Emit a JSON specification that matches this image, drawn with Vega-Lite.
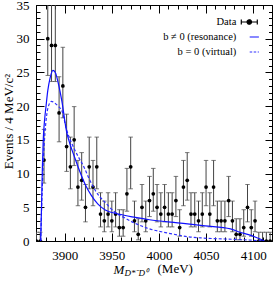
{
  "$schema": "https://vega.github.io/schema/vega-lite/v6.json",
  "width": 236,
  "height": 236,
  "autosize": "none",
  "padding": {"left": 36, "top": 5, "right": 2, "bottom": 46},
  "background": "white",
  "config": {
    "view": {"stroke": "black", "strokeWidth": 1},
    "axis": {"grid": false, "domain": false, "tickColor": "black", "labelColor": "black", "titleColor": "black", "labelFont": "Liberation Serif", "titleFont": "Liberation Serif", "titleFontWeight": "normal"}
  },
  "datasets": {
    "pts": [
      {"m":3870,"n":0,"lo":0,"hi":1.3},{"m":3874,"n":0,"lo":0,"hi":1.3},{"m":3878,"n":12,"lo":8.59,"hi":16.55},
      {"m":3882,"n":30,"lo":24.55,"hi":36.31},{"m":3886,"n":29,"lo":23.65,"hi":35.22},{"m":3890,"n":29,"lo":23.65,"hi":35.22},
      {"m":3894,"n":19,"lo":14.71,"hi":24.36},{"m":3898,"n":23,"lo":18.27,"hi":28.73},{"m":3902,"n":14,"lo":10.32,"hi":18.81},
      {"m":3906,"n":11,"lo":7.74,"hi":15.41},{"m":3910,"n":15,"lo":11.19,"hi":19.93},{"m":3914,"n":8,"lo":5.23,"hi":11.95},
      {"m":3918,"n":9,"lo":6.06,"hi":13.11},{"m":3922,"n":5,"lo":2.84,"hi":8.38},{"m":3926,"n":11,"lo":7.74,"hi":15.41},
      {"m":3930,"n":8,"lo":5.23,"hi":11.95},{"m":3934,"n":11,"lo":7.74,"hi":15.41},{"m":3938,"n":4,"lo":2.09,"hi":7.16},
      {"m":3942,"n":3,"lo":1.37,"hi":5.92},{"m":3946,"n":4,"lo":2.09,"hi":7.16},{"m":3950,"n":3,"lo":1.37,"hi":5.92},
      {"m":3954,"n":4,"lo":2.09,"hi":7.16},{"m":3958,"n":2,"lo":0.71,"hi":4.64},{"m":3962,"n":2,"lo":0.71,"hi":4.64},
      {"m":3966,"n":7,"lo":4.42,"hi":10.77},{"m":3970,"n":11,"lo":7.74,"hi":15.41},{"m":3974,"n":3,"lo":1.37,"hi":5.92},
      {"m":3978,"n":1,"lo":0.17,"hi":3.3},{"m":3982,"n":5,"lo":2.84,"hi":8.38},{"m":3986,"n":3,"lo":1.37,"hi":5.92},
      {"m":3990,"n":6,"lo":3.62,"hi":9.58},{"m":3994,"n":7,"lo":4.42,"hi":10.77},{"m":3998,"n":5,"lo":2.84,"hi":8.38},
      {"m":4002,"n":4,"lo":2.09,"hi":7.16},{"m":4006,"n":5,"lo":2.84,"hi":8.38},{"m":4010,"n":4,"lo":2.09,"hi":7.16},
      {"m":4014,"n":4,"lo":2.09,"hi":7.16},{"m":4018,"n":6,"lo":3.62,"hi":9.58},{"m":4022,"n":2,"lo":0.71,"hi":4.64},
      {"m":4026,"n":8,"lo":5.23,"hi":11.95},{"m":4030,"n":9,"lo":6.06,"hi":13.11},{"m":4034,"n":4,"lo":2.09,"hi":7.16},
      {"m":4038,"n":4,"lo":2.09,"hi":7.16},{"m":4042,"n":3,"lo":1.37,"hi":5.92},{"m":4046,"n":4,"lo":2.09,"hi":7.16},
      {"m":4050,"n":8,"lo":5.23,"hi":11.95},{"m":4054,"n":4,"lo":2.09,"hi":7.16},{"m":4058,"n":8,"lo":5.23,"hi":11.95},
      {"m":4062,"n":3,"lo":1.37,"hi":5.92},{"m":4066,"n":3,"lo":1.37,"hi":5.92},{"m":4070,"n":3,"lo":1.37,"hi":5.92},
      {"m":4074,"n":6,"lo":3.62,"hi":9.58},{"m":4078,"n":3,"lo":1.37,"hi":5.92},{"m":4082,"n":1,"lo":0.17,"hi":3.3},
      {"m":4086,"n":1,"lo":0.17,"hi":3.3},{"m":4090,"n":2,"lo":0.71,"hi":4.64},{"m":4094,"n":5,"lo":2.84,"hi":8.38},
      {"m":4098,"n":2,"lo":0.71,"hi":4.64},{"m":4102,"n":3,"lo":1.37,"hi":5.92},{"m":4106,"n":0,"lo":0,"hi":1.3},
      {"m":4110,"n":0,"lo":0,"hi":1.3},{"m":4114,"n":0,"lo":0,"hi":1.3},{"m":4118,"n":0,"lo":0,"hi":1.3}
    ],
    "solid": [
      {"m":3874.5,"v":0,"s":"b ≠ 0 (resonance)"},{"m":3875.5,"v":6,"s":"b ≠ 0 (resonance)"},{"m":3876.3,"v":11,"s":"b ≠ 0 (resonance)"},
      {"m":3877.2,"v":15,"s":"b ≠ 0 (resonance)"},{"m":3878.5,"v":17.8,"s":"b ≠ 0 (resonance)"},{"m":3880,"v":19.8,"s":"b ≠ 0 (resonance)"},
      {"m":3882,"v":22.3,"s":"b ≠ 0 (resonance)"},{"m":3884.5,"v":24.2,"s":"b ≠ 0 (resonance)"},{"m":3887.5,"v":25.3,"s":"b ≠ 0 (resonance)"},
      {"m":3890,"v":25,"s":"b ≠ 0 (resonance)"},{"m":3893,"v":23.5,"s":"b ≠ 0 (resonance)"},{"m":3897,"v":20.7,"s":"b ≠ 0 (resonance)"},
      {"m":3902,"v":16.2,"s":"b ≠ 0 (resonance)"},{"m":3906,"v":14.2,"s":"b ≠ 0 (resonance)"},{"m":3910,"v":12.6,"s":"b ≠ 0 (resonance)"},
      {"m":3916,"v":10.3,"s":"b ≠ 0 (resonance)"},{"m":3922,"v":8.3,"s":"b ≠ 0 (resonance)"},{"m":3928,"v":6.8,"s":"b ≠ 0 (resonance)"},
      {"m":3935,"v":5.5,"s":"b ≠ 0 (resonance)"},{"m":3943,"v":4.6,"s":"b ≠ 0 (resonance)"},{"m":3957,"v":4.0,"s":"b ≠ 0 (resonance)"},
      {"m":3975,"v":3.5,"s":"b ≠ 0 (resonance)"},{"m":3990,"v":3.15,"s":"b ≠ 0 (resonance)"},{"m":4020,"v":2.7,"s":"b ≠ 0 (resonance)"},
      {"m":4049,"v":2.25,"s":"b ≠ 0 (resonance)"},{"m":4076,"v":1.8,"s":"b ≠ 0 (resonance)"},{"m":4086,"v":1.3,"s":"b ≠ 0 (resonance)"},
      {"m":4095,"v":0.95,"s":"b ≠ 0 (resonance)"},{"m":4102,"v":0.6,"s":"b ≠ 0 (resonance)"},{"m":4108,"v":0.25,"s":"b ≠ 0 (resonance)"},
      {"m":4112,"v":0,"s":"b ≠ 0 (resonance)"}
    ],
    "dashed": [
      {"m":3874.5,"v":0,"s":"b = 0 (virtual)"},{"m":3875.5,"v":5,"s":"b = 0 (virtual)"},{"m":3877,"v":11,"s":"b = 0 (virtual)"},
      {"m":3879,"v":16,"s":"b = 0 (virtual)"},{"m":3881,"v":18.8,"s":"b = 0 (virtual)"},{"m":3883.5,"v":20.3,"s":"b = 0 (virtual)"},
      {"m":3886,"v":20.7,"s":"b = 0 (virtual)"},{"m":3889,"v":20.5,"s":"b = 0 (virtual)"},{"m":3893,"v":20,"s":"b = 0 (virtual)"},
      {"m":3897,"v":19.3,"s":"b = 0 (virtual)"},{"m":3902,"v":16.5,"s":"b = 0 (virtual)"},{"m":3908,"v":14.3,"s":"b = 0 (virtual)"},
      {"m":3914,"v":12.6,"s":"b = 0 (virtual)"},{"m":3920,"v":11.1,"s":"b = 0 (virtual)"},{"m":3926,"v":9.2,"s":"b = 0 (virtual)"},
      {"m":3932,"v":7.6,"s":"b = 0 (virtual)"},{"m":3937,"v":6.6,"s":"b = 0 (virtual)"},{"m":3943,"v":5.7,"s":"b = 0 (virtual)"},
      {"m":3953,"v":4.3,"s":"b = 0 (virtual)"},{"m":3964,"v":3.4,"s":"b = 0 (virtual)"},{"m":3975,"v":2.6,"s":"b = 0 (virtual)"},
      {"m":3990,"v":1.8,"s":"b = 0 (virtual)"},{"m":4005,"v":1.3,"s":"b = 0 (virtual)"},{"m":4016,"v":1.0,"s":"b = 0 (virtual)"},
      {"m":4030,"v":0.65,"s":"b = 0 (virtual)"},{"m":4045,"v":0.45,"s":"b = 0 (virtual)"},{"m":4070,"v":0.3,"s":"b = 0 (virtual)"},
      {"m":4095,"v":0.15,"s":"b = 0 (virtual)"},{"m":4110,"v":0,"s":"b = 0 (virtual)"}
    ]
  },
  "resolve": {"axis": {"x": "independent", "y": "independent"}},
  "layer": [
    {
      "data": {"name": "pts"},
      "mark": {"type": "rule", "color": "#444", "strokeWidth": 1, "clip": true},
      "encoding": {
        "x": {"field": "m", "type": "quantitative", "scale": {"domain": [3869.5, 4120], "nice": false, "zero": false},
          "axis": {"orient": "bottom", "values": [3900, 3950, 4000, 4050, 4100], "format": "d", "tickSize": -8, "labelFontSize": 13, "labelPadding": 16,
            "title": "M", "titleFontSize": 13, "titleFontStyle": "italic", "titleAlign": "left", "titleBaseline": "alphabetic", "titleX": 77, "titleY": 32}},
        "y": {"field": "lo", "type": "quantitative", "scale": {"domain": [0, 35], "nice": false, "zero": true},
          "axis": {"orient": "left", "values": [0, 5, 10, 15, 20, 25, 30, 35], "format": "d", "tickSize": -8, "labelFontSize": 13, "labelPadding": 15,
            "title": "Events / 4 MeV/c²", "titleFontSize": 13, "titleAngle": 270, "titleAlign": "center", "titleBaseline": "middle", "titleX": -28, "titleY": 116}},
        "y2": {"field": "hi"}
      }
    },
    {
      "data": {"name": "pts"},
      "mark": {"type": "tick", "orient": "horizontal", "color": "#444", "thickness": 1, "size": 4.5, "clip": true},
      "encoding": {
        "x": {"field": "m", "type": "quantitative",
          "axis": {"orient": "bottom", "values": [3870,3880,3890,3910,3920,3930,3940,3960,3970,3980,3990,4010,4020,4030,4040,4060,4070,4080,4090,4110,4120], "tickSize": -4, "labels": false, "title": null}},
        "y": {"field": "hi", "type": "quantitative",
          "axis": {"orient": "left", "values": [1,2,3,4,6,7,8,9,11,12,13,14,16,17,18,19,21,22,23,24,26,27,28,29,31,32,33,34], "tickSize": -4, "labels": false, "title": null}}
      }
    },
    {
      "data": {"name": "pts"},
      "mark": {"type": "tick", "orient": "horizontal", "color": "#444", "thickness": 1, "size": 4.5, "clip": true},
      "encoding": {
        "x": {"field": "m", "type": "quantitative",
          "axis": {"orient": "top", "values": [3900, 3950, 4000, 4050, 4100], "tickSize": -8, "labels": false, "title": null}},
        "y": {"field": "lo", "type": "quantitative",
          "axis": {"orient": "right", "values": [0, 5, 10, 15, 20, 25, 30, 35], "tickSize": -7, "labels": false, "title": null}}
      }
    },
    {
      "data": {"name": "pts"},
      "mark": {"type": "circle", "color": "black", "opacity": 1, "size": 14, "clip": true},
      "encoding": {
        "x": {"field": "m", "type": "quantitative",
          "axis": {"orient": "top", "values": [3870,3880,3890,3910,3920,3930,3940,3960,3970,3980,3990,4010,4020,4030,4040,4060,4070,4080,4090,4110,4120], "tickSize": -4, "labels": false, "title": null}},
        "y": {"field": "n", "type": "quantitative",
          "axis": {"orient": "right", "values": [1,2,3,4,6,7,8,9,11,12,13,14,16,17,18,19,21,22,23,24,26,27,28,29,31,32,33,34], "tickSize": -3.5, "labels": false, "title": null}}
      }
    },
    {
      "data": {"name": "dashed"},
      "mark": {"type": "line", "strokeWidth": 1.2, "strokeDash": [3, 2], "interpolate": "monotone", "clip": true},
      "encoding": {
        "x": {"field": "m", "type": "quantitative",
          "axis": {"orient": "bottom", "ticks": false, "labels": false, "title": "D*⁻D⁰", "titleFontSize": 9, "titleFontStyle": "italic", "titleAlign": "left", "titleBaseline": "alphabetic", "titleX": 88, "titleY": 34}},
        "y": {"field": "v", "type": "quantitative", "axis": null},
        "stroke": {"field": "s", "type": "nominal",
          "scale": {"domain": ["Data", "b ≠ 0 (resonance)", "b = 0 (virtual)"], "range": ["black", "#1010ff", "#3030ff"]},
          "legend": {"orient": "none", "legendX": 204.3, "legendY": 8, "title": null, "padding": 0,
            "labelFont": "Liberation Serif", "labelFontSize": 10.5, "labelColor": "black", "labelAlign": "right", "labelOffset": -22,
            "symbolSize": 256, "symbolStrokeWidth": 1.2, "rowPadding": -1,
            "encode": {"symbols": {"update": {
              "shape": {"signal": "datum.value === 'Data' ? 'M-1,0H1M-1,-0.3V0.3M1,-0.3V0.3M0.28,0A0.28,0.28,0,1,1,-0.28,0A0.28,0.28,0,1,1,0.28,0Z' : 'M0.05,0H1.2'"},
              "fill": {"signal": "datum.value === 'Data' ? 'black' : 'transparent'"},
              "strokeDash": {"signal": "datum.value === 'b = 0 (virtual)' ? [2.5, 1.5] : [1, 0]"}
            }}}}}
      }
    },
    {
      "data": {"name": "solid"},
      "mark": {"type": "line", "strokeWidth": 1.2, "interpolate": "monotone", "clip": true},
      "encoding": {
        "x": {"field": "m", "type": "quantitative",
          "axis": {"orient": "bottom", "ticks": false, "labels": false, "title": "(MeV)", "titleFontSize": 13, "titleAlign": "left", "titleBaseline": "alphabetic", "titleX": 121, "titleY": 31}},
        "y": {"field": "v", "type": "quantitative", "axis": null},
        "stroke": {"field": "s", "type": "nominal",
          "legend": {"orient": "none", "legendX": 204.3, "legendY": 8, "title": null, "padding": 0,
            "labelFont": "Liberation Serif", "labelFontSize": 10.5, "labelColor": "black", "labelAlign": "right", "labelOffset": -22,
            "symbolSize": 256, "symbolStrokeWidth": 1.2, "rowPadding": -1,
            "encode": {"symbols": {"update": {
              "shape": {"signal": "datum.value === 'Data' ? 'M-1,0H1M-1,-0.3V0.3M1,-0.3V0.3M0.28,0A0.28,0.28,0,1,1,-0.28,0A0.28,0.28,0,1,1,0.28,0Z' : 'M0.05,0H1.2'"},
              "fill": {"signal": "datum.value === 'Data' ? 'black' : 'transparent'"},
              "strokeDash": {"signal": "datum.value === 'b = 0 (virtual)' ? [2.5, 1.5] : [1, 0]"}
            }}}}}
      }
    }
  ]
}
